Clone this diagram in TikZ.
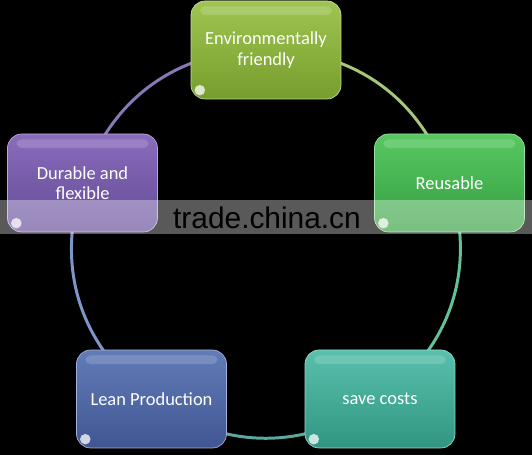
\documentclass[tikz,border=0pt]{standalone}
\usepackage{fontspec}
\setmainfont{Carlito}
\newfontfamily\markfont{Liberation Sans}
\usetikzlibrary{backgrounds}

\definecolor{envtop}{RGB}{160,196,82}
\definecolor{envbot}{RGB}{118,158,44}
\definecolor{reutop}{RGB}{88,200,98}
\definecolor{reubot}{RGB}{52,158,64}
\definecolor{durtop}{RGB}{138,108,188}
\definecolor{durbot}{RGB}{98,74,150}
\definecolor{leantop}{RGB}{98,124,184}
\definecolor{leanbot}{RGB}{64,86,146}
\definecolor{savetop}{RGB}{88,192,172}
\definecolor{savebot}{RGB}{48,150,130}

\tikzset{
  item/.style 2 args={rounded corners=8pt, minimum width=3cm, minimum height=1.96cm,
    align=center, text=white, font=\fontsize{10.5}{11.5}\selectfont,
    top color=#1, bottom color=#2, draw=#1!60!white, line width=0.4pt,
    path picture={
      \fill[white, opacity=0.16, rounded corners=3pt]
        ([xshift=5pt, yshift=-3pt]path picture bounding box.north west) rectangle
        ([xshift=-5pt, yshift=-8pt]path picture bounding box.north east);
      \fill[white, opacity=0.75]
        ([shift={(5pt,5pt)}]path picture bounding box.south west) circle (3pt);
    }},
  ring/.style={line width=1.7pt},
}

\begin{document}
\begin{tikzpicture}[x=0.02cm, y=0.02cm]
  \useasboundingbox (0,0) rectangle (532,455);

  % boxes
  \node[item={envtop}{envbot}] (env) at (266,405) {Environmentally\\friendly};
  \node[item={reutop}{reubot}] (reu) at (449.5,272) {Reusable};
  \node[item={savetop}{savebot}] (save) at (380,56) {save costs};
  \node[item={leantop}{leanbot}] (lean) at (151.5,56) {Lean Production};
  \node[item={durtop}{durbot}] (dur) at (82.5,272) {Durable and\\flexible};

  \begin{scope}[on background layer]
    \fill[black] (0,0) rectangle (532,455);
    % ring segments
    \draw[ring, color={rgb,255:red,165;green,200;blue,120}] (env.center) to[bend left=36] (reu.center);
    \draw[ring, color={rgb,255:red,100;green,192;blue,150}] (reu.center) to[bend left=36] (save.center);
    \draw[ring, color={rgb,255:red,90;green,168;blue,160}] (save.center) to[bend left=36] (lean.center);
    \draw[ring, color={rgb,255:red,125;green,150;blue,200}] (lean.center) to[bend left=36] (dur.center);
    \draw[ring, color={rgb,255:red,136;green,120;blue,184}] (dur.center) to[bend left=36] (env.center);
  \end{scope}

  % watermark
  \fill[white, opacity=0.35] (0,221) rectangle (532,255);
  \node[font=\markfont\fontsize{17}{17}\selectfont, text=black] (mark) at (267,237) {trade.china.cn};
\end{tikzpicture}
\end{document}
